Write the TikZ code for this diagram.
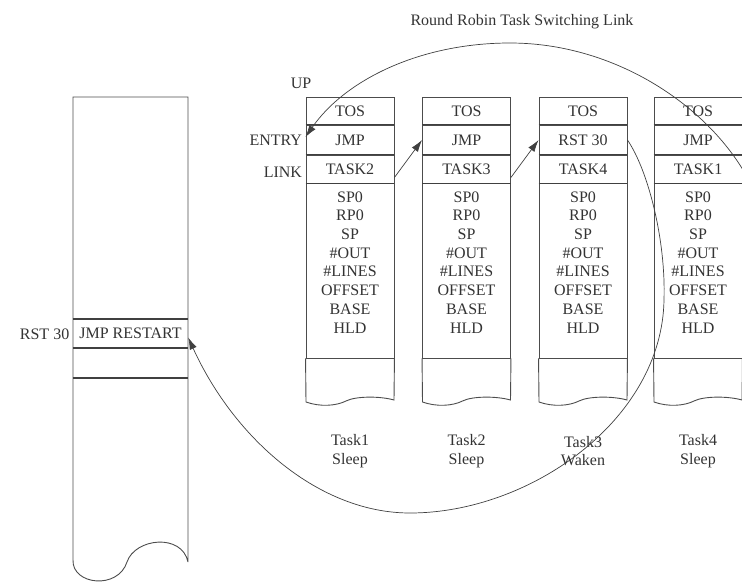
\documentclass[tikz,border=0pt]{standalone}
\usepackage{fontspec}
\setmainfont{Liberation Serif}
\usetikzlibrary{arrows.meta}

\begin{document}
\begin{tikzpicture}[x=1pt, y=-1pt,
    every node/.style={text=black!80, font=\fontsize{16}{18.7}\selectfont},
    cell/.style={draw=black!70, line width=0.9pt, minimum width=88pt, inner sep=0pt},
    sep/.style={draw=black!75, line width=1.8pt},
    edge/.style={draw=black!70, line width=0.9pt},
    link/.style={black!75, line width=0.7pt, -{Latex[length=12pt, width=7.5pt]}}]
  \useasboundingbox (0,0) rectangle (742,582);
  %
  \node (title) at (522,22) {\fontsize{16}{18}\selectfont Round Robin Task Switching Link};
  %
  \foreach \i/\x/\entry/\link/\state in {1/350/JMP/TASK2/Sleep, 2/466.5/JMP/TASK3/Sleep,
                                          3/583/RST 30/TASK4/Waken, 4/698/JMP/TASK1/Sleep}{
    \node[cell, minimum height=28pt] (tos\i) at (\x,111) {TOS};      % user area
    \node[cell, minimum height=30pt] (ent\i) at (\x,140) {\entry};
    \node[cell, minimum height=28pt] (lnk\i) at (\x,169) {\link};
    \node[cell, minimum height=175pt] (body\i) at (\x,270.5) {};
    %
    \draw[sep] (ent\i.north west) -- (ent\i.north east);             % thick rows
    \draw[sep] (lnk\i.north west) -- (lnk\i.north east);
    \draw[sep] (lnk\i.south west) -- (lnk\i.south east);
    %
    \node[align=center, anchor=north] (vars\i) at (\x,188)
      {SP0\\RP0\\SP\\\#OUT\\\#LINES\\OFFSET\\BASE\\HLD};
    %
    \draw[edge] (body\i.south west) -- (\x-44,402)                    % torn bottom
      .. controls (\x-30,407) and (\x-14,406) .. (\x-4,401)
      .. controls (\x+6,396) and (\x+30,396) .. (\x+44,400) -- (body\i.south east);
    %
    \node[align=center] (state\i) at (\x,451) {Task\i\\\state};
  }
  %
  \node (up) at (301,83) {UP};                                        % left labels
  \node[anchor=east] (entry) at (ent1.west) {ENTRY};
  \node[anchor=east] (link) at ([yshift=-3pt]lnk1.west) {LINK};
  %
  \draw[edge] (188,562) -- (188,97) -- (73,97) -- (73,560)           % memory column
    .. controls (72,585) and (118,590) .. (127,562)
    .. controls (135,538) and (182,533) .. (188,562);
  \node[minimum width=115pt, minimum height=29pt, inner sep=0pt] (restart) at (130.5,333.5) {JMP RESTART};
  \node[minimum width=115pt, minimum height=30pt, inner sep=0pt] (spare) at (130.5,363) {};
  \draw[sep] (restart.north west) -- (restart.north east);
  \draw[sep] (restart.south west) -- (restart.south east);
  \draw[sep] (spare.south west) -- (spare.south east);
  \node[anchor=east] (rst) at ([yshift=-1pt]restart.west) {RST 30};
  %
  \draw[link] ([yshift=6pt]lnk1.south east) -- (ent2.west);         % links
  \draw[link] ([yshift=6pt]lnk2.south east) -- (ent3.west);
  \draw[link] (lnk4.east) .. controls (700,100) and (610,43) .. (510,43)
    .. controls (420,43) and (345,80) .. ([yshift=3pt]ent1.west);
  \draw[link] (ent3.east) .. controls (648,170) and (666,240) .. (664,300)
    .. controls (662,420) and (530,513) .. (410,513)
    .. controls (320,513) and (235,440) .. ([yshift=-4pt]restart.east);
\end{tikzpicture}
\end{document}
